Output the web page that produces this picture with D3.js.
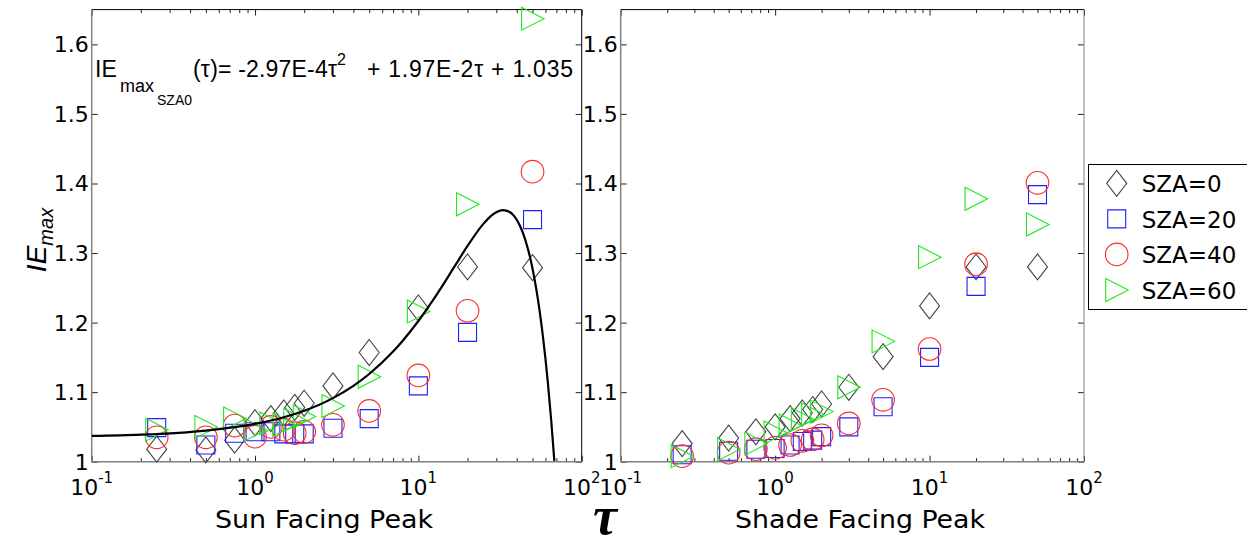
<!DOCTYPE html>
<html>
<head>
<meta charset="utf-8">
<script src="https://cdn.jsdelivr.net/npm/d3@7"></script>
<style>
body { margin: 0; background: #fff; }
svg { display: block; }
</style>
</head>
<body>
<div id="chart"></div>
<script>
// optical depth values, shared by every series
const tau = [0.25, 0.5, 0.75, 1, 1.25, 1.5, 1.75, 2, 3, 5, 10, 20, 50];

// Sun Facing Peak
const sunSZA0  = [1.018, 1.017, 1.031, 1.056, 1.062, 1.070, 1.078, 1.084, 1.109, 1.157, 1.221, 1.280, 1.279];
const sunSZA20 = [1.049, 1.024, 1.041, 1.043, 1.043, 1.040, 1.040, 1.040, 1.048, 1.062, 1.109, 1.186, 1.348];
const sunSZA40 = [1.035, 1.035, 1.052, 1.036, 1.050, 1.046, 1.041, 1.043, 1.053, 1.073, 1.124, 1.217, 1.417];
const sunSZA60 = [1.046, 1.050, 1.062, 1.046, 1.055, 1.053, 1.060, 1.065, 1.080, 1.122, 1.216, 1.370, 1.637];

// Shade Facing Peak
const shadeSZA0  = [1.026, 1.034, 1.043, 1.050, 1.062, 1.070, 1.075, 1.083, 1.107, 1.151, 1.224, 1.280, 1.280];
const shadeSZA20 = [1.010, 1.015, 1.018, 1.019, 1.024, 1.029, 1.031, 1.036, 1.050, 1.079, 1.150, 1.252, 1.384];
const shadeSZA40 = [1.008, 1.013, 1.018, 1.020, 1.024, 1.030, 1.032, 1.038, 1.055, 1.089, 1.162, 1.284, 1.401];
const shadeSZA60 = [1.008, 1.018, 1.026, 1.042, 1.052, 1.061, 1.068, 1.072, 1.107, 1.173, 1.294, 1.378, 1.341];

// fitted curve (SZA=0)
const fitTau = [0.1, 0.2, 0.5, 1, 1.5, 2, 3, 4, 5, 7, 8, 10, 12, 15, 17, 20, 25, 28, 30, 33, 36, 40, 42, 45, 48, 50, 55, 58, 60, 62, 65, 68];
const fitIE  = [1.0370, 1.0389, 1.0448, 1.0544, 1.0639, 1.0732, 1.0914, 1.1090, 1.1261, 1.1583, 1.1736, 1.2023, 1.2286, 1.2637, 1.2841, 1.3102, 1.3419, 1.3538, 1.3587, 1.3617, 1.3593, 1.3478, 1.3385, 1.3201, 1.2963, 1.2775, 1.2201, 1.1785, 1.1478, 1.1147, 1.0607, 1.0013];

// ticks
const yTicks = [1, 1.1, 1.2, 1.3, 1.4, 1.5, 1.6];
const yTickLabels = ["1", "1.1", "1.2", "1.3", "1.4", "1.5", "1.6"];
const xMajor = [0.1, 1, 10, 100];
const xExponents = ["-1", "0", "1", "2"];
const legendLabels = ["SZA=0", "SZA=20", "SZA=40", "SZA=60"];

const W = 1247, H = 539;
const svg = d3.select("#chart").append("svg")
    .attr("width", W)
    .attr("height", H);

let y = d3.scaleLinear().domain([1, 1.65]).range([461.7, 9.6]);
let xSun = d3.scaleLog().domain([0.1, 100]).range([91.7, 581.7]);
let xShade = d3.scaleLog().domain([0.1, 100]).range([620.7, 1084]);

// minor ticks 2..9 in each decade
let xMinor = [];
[0.1, 1, 10].forEach(d => {
    for (let k = 2; k <= 9; k++) xMinor.push(+(d * k).toPrecision(3));
});

// marker shapes
const markers = [
    { name: "diamond", color: "#444", path: "M0,-13L10,0L0,13L-10,0Z" },
    { name: "square", color: "#1f1fff", path: "M-9,-9L9,-9L9,9L-9,9Z" },
    { name: "circle", color: "#ff2a2a", path: d3.symbol(d3.symbolCircle, Math.PI * 11.3 * 11.3)() },
    { name: "triangle", color: "#1fe81f", path: "M-11,-11.5L11.5,0L-11,11.5Z" }
];

function drawPanel(x, series, opts) {
    let g = svg.append("g");
    let [x0, x1] = x.range();
    let [yb, yt] = y.range();

    // ticks: bottom & top, left & right, all pointing inward
    g.append("g").attr("transform", `translate(0,${yb})`)
        .call(d3.axisBottom(x).tickValues(xMajor).tickSizeInner(-6).tickSizeOuter(0).tickFormat(""));
    g.append("g").attr("transform", `translate(0,${yb})`)
        .call(d3.axisBottom(x).tickValues(xMinor).tickSizeInner(-3.5).tickSizeOuter(0).tickFormat(""));
    g.append("g").attr("transform", `translate(0,${yt})`)
        .call(d3.axisTop(x).tickValues(xMajor).tickSizeInner(-6).tickSizeOuter(0).tickFormat(""));
    g.append("g").attr("transform", `translate(0,${yt})`)
        .call(d3.axisTop(x).tickValues(xMinor).tickSizeInner(-3.5).tickSizeOuter(0).tickFormat(""));
    g.append("g").attr("transform", `translate(${x0},0)`)
        .call(d3.axisLeft(y).tickValues(yTicks).tickSizeInner(-6).tickSizeOuter(0).tickFormat(""));
    g.append("g").attr("transform", `translate(${x1},0)`)
        .call(d3.axisRight(y).tickValues(yTicks).tickSizeInner(-6).tickSizeOuter(0).tickFormat(""));
    g.selectAll(".domain").remove();
    g.selectAll(".tick line").attr("stroke", "#222").attr("stroke-width", 1);

    // frame
    g.append("line").attr("x1", x0).attr("x2", x1).attr("y1", yt).attr("y2", yt).attr("stroke", "#000");
    g.append("line").attr("x1", x1).attr("x2", x1).attr("y1", yt).attr("y2", yb).attr("stroke", opts.rightColor);
    g.append("line").attr("x1", x0).attr("x2", x0).attr("y1", yt).attr("y2", yb).attr("stroke", "#808080").attr("stroke-width", 1.5);
    g.append("line").attr("x1", x0).attr("x2", x1).attr("y1", yb).attr("y2", yb).attr("stroke", "#808080").attr("stroke-width", 1.5);

    // y tick labels
    g.selectAll(".ylab")
        .data(yTicks)
        .enter()
        .append("text")
        .attr("x", x0 - 3)
        .attr("y", d => y(d) + 8)
        .attr("text-anchor", "end")
        .style("font-family", "'DejaVu Sans', sans-serif")
        .style("font-size", "22px")
        .text((d, i) => yTickLabels[i]);

    // x tick labels 10^n
    let xl = g.selectAll(".xlab")
        .data(xMajor)
        .enter()
        .append("text")
        .attr("x", d => x(d))
        .attr("y", 495)
        .attr("text-anchor", "middle")
        .style("font-family", "'DejaVu Sans', sans-serif")
        .style("font-size", "22px");
    xl.append("tspan").text("10");
    xl.append("tspan")
        .attr("dy", -12)
        .style("font-size", "15px")
        .text((d, i) => xExponents[i]);

    // x axis label
    g.append("text")
        .attr("x", opts.labelX)
        .attr("y", 528)
        .attr("text-anchor", "middle")
        .attr("textLength", opts.labelW)
        .attr("lengthAdjust", "spacingAndGlyphs")
        .style("font-family", "'DejaVu Sans', sans-serif")
        .style("font-size", "24px")
        .text(opts.label);

    // markers
    let clipId = "clip" + opts.id;
    svg.append("clipPath").attr("id", clipId)
        .append("rect").attr("x", x0).attr("y", yt - 20).attr("width", x1 - x0).attr("height", yb - yt + 20);

    let mg = g.append("g");
    series.forEach((vals, si) => {
        mg.selectAll(".m" + si)
            .data(vals)
            .enter()
            .append("path")
            .attr("transform", (d, i) => `translate(${x(tau[i])},${y(d)})`)
            .attr("d", markers[si].path)
            .attr("fill", "none")
            .attr("stroke", markers[si].color)
            .attr("stroke-width", 1.1);
    });
    return g;
}

drawPanel(xSun, [sunSZA0, sunSZA20, sunSZA40, sunSZA60],
    { id: "sun", label: "Sun Facing Peak", labelX: 324, labelW: 218, rightColor: "#000" });
drawPanel(xShade, [shadeSZA0, shadeSZA20, shadeSZA40, shadeSZA60],
    { id: "shade", label: "Shade Facing Peak", labelX: 860, labelW: 250, rightColor: "#808080" });

// fit curve on the sun panel
svg.append("clipPath").attr("id", "fitclip")
    .append("rect").attr("x", 91.7).attr("y", 9.6).attr("width", 490).attr("height", 452.1);
let fitData = fitTau.map((t, i) => [t, fitIE[i]]);
svg.append("path")
    .datum(fitData)
    .attr("clip-path", "url(#fitclip)")
    .attr("fill", "none")
    .attr("stroke", "#000")
    .attr("stroke-width", 2.2)
    .attr("d", d3.line().x(d => xSun(d[0])).y(d => y(d[1])).curve(d3.curveMonotoneX));

// equation annotation
let eq = svg.append("text")
    .style("font-family", "'Liberation Sans', Arial, sans-serif")
    .style("font-size", "23px");
eq.append("tspan").attr("x", 95).attr("y", 77).text("IE");
eq.append("tspan").attr("x", 120).attr("y", 92).style("font-size", "18px").text("max");
eq.append("tspan").attr("x", 157).attr("y", 105).style("font-size", "14px").text("SZA0");
eq.append("tspan").attr("x", 193).attr("y", 77).attr("textLength", 144).text("(τ)= -2.97E-4τ");
eq.append("tspan").attr("x", 337).attr("y", 65).style("font-size", "16px").text("2");
eq.append("tspan").attr("x", 367).attr("y", 77).attr("textLength", 206).text("+ 1.97E-2τ + 1.035");

// y axis label IE_max
let yl = svg.append("text")
    .attr("transform", "translate(46,240) rotate(-90)")
    .attr("text-anchor", "middle")
    .style("font-family", "'Liberation Sans', Arial, sans-serif")
    .style("font-style", "italic")
    .style("font-size", "28px");
yl.append("tspan").text("IE");
yl.append("tspan").attr("dy", 7).style("font-size", "20px").text("max");

// shared tau label
svg.append("text")
    .attr("x", 605)
    .attr("y", 534)
    .attr("text-anchor", "middle")
    .style("font-family", "'Liberation Serif', 'DejaVu Serif', serif")
    .style("font-style", "italic")
    .style("font-weight", "bold")
    .style("font-size", "54px")
    .text("τ");

// legend
let lg = svg.append("g");
lg.append("rect")
    .attr("x", 1088.5).attr("y", 164.5)
    .attr("width", 160).attr("height", 145)
    .attr("fill", "#fff")
    .attr("stroke", "#000");
let rows = d3.scaleLinear().domain([0, 3]).range([183.3, 290]);
legendLabels.forEach((lab, i) => {
    lg.append("path")
        .attr("transform", `translate(1116.7,${rows(i)})`)
        .attr("d", markers[i].path)
        .attr("fill", "none")
        .attr("stroke", markers[i].color)
        .attr("stroke-width", 1.1);
    lg.append("text")
        .attr("x", 1141.7)
        .attr("y", rows(i) + 9)
        .style("font-family", "'DejaVu Sans', sans-serif")
        .style("font-size", "23px")
        .text(lab);
});
</script>
</body>
</html>
